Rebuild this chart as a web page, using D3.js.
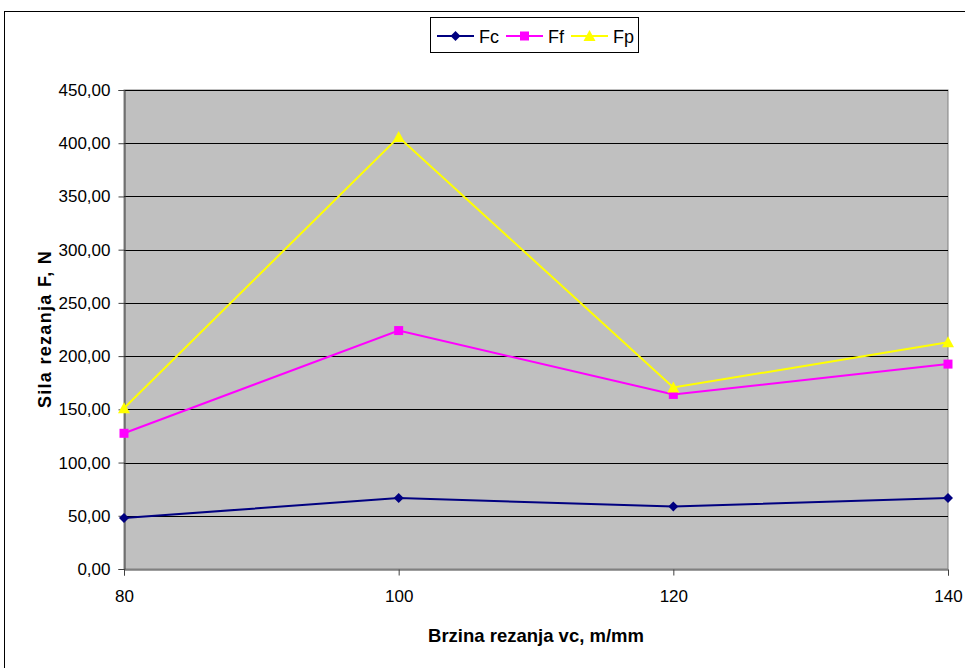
<!DOCTYPE html>
<html><head><meta charset="utf-8">
<script src="https://cdn.jsdelivr.net/npm/d3@7"></script>
<style>body{margin:0;background:#fff}svg{display:block;font-family:"Liberation Sans",Arial,sans-serif}</style>
</head><body><svg id="c" width="965" height="668"></svg>
<script>
const categories = [80, 100, 120, 140];
const fc = [48.0, 66.6, 58.8, 66.6];
const ff = [127.5, 224.0, 164.0, 192.5];
const fp = [151.0, 405.8, 170.5, 213.0];
const yTicks = [0, 50, 100, 150, 200, 250, 300, 350, 400, 450];
const seriesNames = ["Fc", "Ff", "Fp"];
const seriesColors = ["#000080", "#FF00FF", "#FFFF00"];
const seriesShapes = ["diamond", "square", "triangle"];

const svg = d3.select("#c");
const L = 124, R = 948, T = 90, B = 569;
const x = d3.scalePoint().domain(categories).range([L, R]);
const y = d3.scaleLinear().domain([0, 450]).range([B, T]);

// outer chart border
svg.append("rect").attr("x", 4.5).attr("y", 11.5).attr("width", 1000).attr("height", 700)
  .attr("fill", "none").attr("stroke", "#000").attr("stroke-width", 1);

// plot area
svg.append("rect").attr("x", L).attr("y", T).attr("width", R - L).attr("height", B - T)
  .attr("fill", "#C0C0C0").attr("stroke", "#808080").attr("stroke-width", 1);

// gridlines
svg.append("g").selectAll("line").data(yTicks.filter(d => d > 0)).join("line")
  .attr("x1", L).attr("x2", R).attr("y1", d => Math.round(y(d)) + 0.5).attr("y2", d => Math.round(y(d)) + 0.5)
  .attr("stroke", "#000").attr("stroke-width", 1);

const fmt = d => d3.format(".2f")(d).replace(".", ",");
const yAxis = d3.axisLeft(y).tickValues(yTicks).tickFormat(fmt).tickSize(6).tickPadding(8);
const gy = svg.append("g").attr("transform", `translate(${L + 0.5},0)`).call(yAxis);
gy.select(".domain").attr("stroke", "#404040");
gy.selectAll(".tick line").attr("stroke", "#404040");
gy.selectAll("text").attr("font-size", 17).attr("fill", "#000").attr("font-family", "Liberation Sans, Arial, sans-serif");

const xAxis = d3.axisBottom(x).tickSize(6).tickPadding(14);
const gx = svg.append("g").attr("transform", `translate(0,${B + 0.5})`).call(xAxis);
gx.select(".domain").attr("stroke", "#404040");
gx.selectAll(".tick line").attr("stroke", "#404040");
gx.selectAll("text").attr("font-size", 17).attr("fill", "#000").attr("font-family", "Liberation Sans, Arial, sans-serif");

// axis titles
svg.append("text").attr("x", 536).attr("y", 642).attr("text-anchor", "middle")
  .attr("font-size", 18.5).attr("font-weight", "bold").text("Brzina rezanja vc, m/mm");
svg.append("text").attr("transform", "translate(51,329) rotate(-90)").attr("text-anchor", "middle")
  .attr("font-size", 18).attr("font-weight", "bold").attr("letter-spacing", 1.3).text("Sila rezanja F, N");

function marker(g, shape, cx, cy, color) {
  if (shape === "diamond") {
    g.append("path").attr("d", `M${cx},${cy - 5}L${cx + 5},${cy}L${cx},${cy + 5}L${cx - 5},${cy}Z`).attr("fill", color);
  } else if (shape === "square") {
    g.append("rect").attr("x", cx - 4.5).attr("y", cy - 4.5).attr("width", 9).attr("height", 9).attr("fill", color);
  } else {
    g.append("path").attr("d", `M${cx},${cy - 6}L${cx + 6},${cy + 5}L${cx - 6},${cy + 5}Z`).attr("fill", color);
  }
}

const allSeries = [fc, ff, fp];
const line = d3.line().x((d, i) => x(categories[i])).y(d => y(d));
allSeries.forEach((vals, si) => {
  const g = svg.append("g");
  g.append("path").attr("d", line(vals)).attr("fill", "none").attr("stroke", seriesColors[si]).attr("stroke-width", 2);
  vals.forEach((v, i) => marker(g, seriesShapes[i] ? seriesShapes[si] : seriesShapes[si], x(categories[i]), y(v), seriesColors[si]));
});

// legend
const lg = svg.append("g");
lg.append("rect").attr("x", 430.5).attr("y", 17.5).attr("width", 208).attr("height", 35)
  .attr("fill", "#fff").attr("stroke", "#000").attr("stroke-width", 1);
const lx = [437, 506, 571];
seriesNames.forEach((n, i) => {
  lg.append("line").attr("x1", lx[i]).attr("x2", lx[i] + 37).attr("y1", 36).attr("y2", 36)
    .attr("stroke", seriesColors[i]).attr("stroke-width", 2);
  marker(lg, seriesShapes[i], lx[i] + 18.5, 36, seriesColors[i]);
  lg.append("text").attr("x", lx[i] + 42).attr("y", 42.5).attr("font-size", 18).text(n);
});
</script></body></html>
